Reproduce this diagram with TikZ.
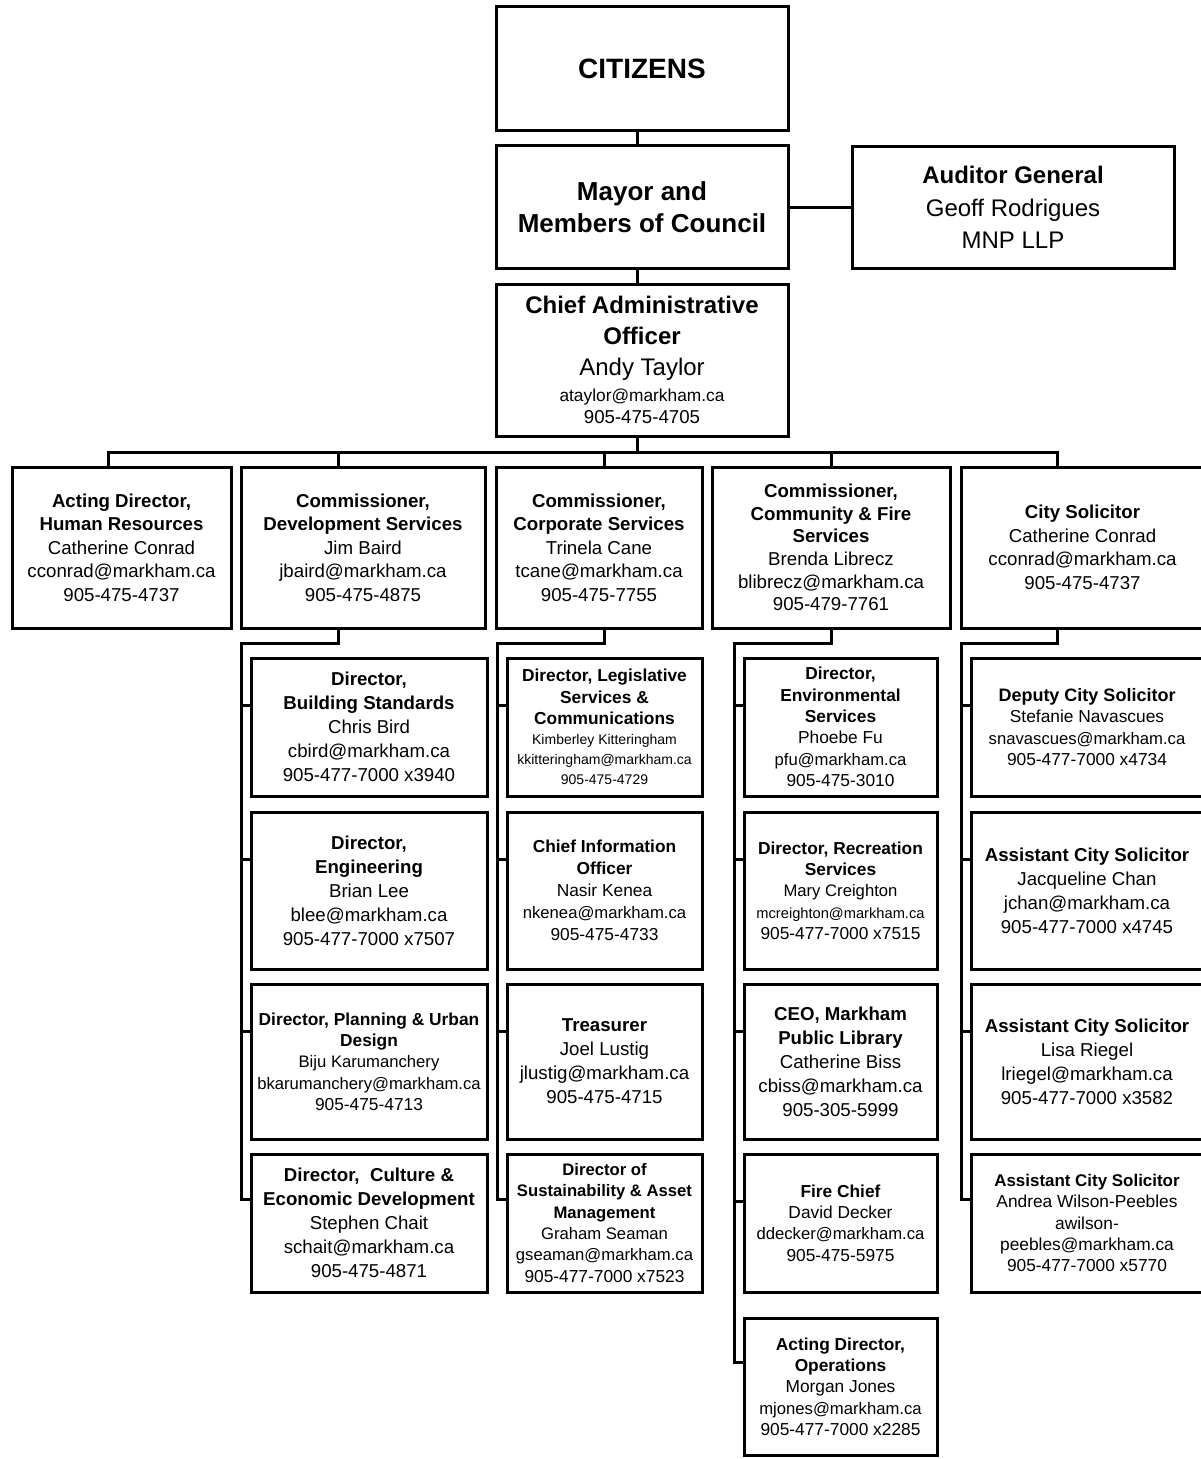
\documentclass[tikz,border=0pt]{standalone}
\usepackage{fontspec}
\setmainfont{Liberation Sans}
\usetikzlibrary{calc}
\newcommand{\fsz}[1]{\fontsize{#1}{#1}\selectfont}

\begin{document}
\begin{tikzpicture}[x=0.75pt,y=-0.75pt,
  box/.style={draw,line width=2.25pt,inner sep=0pt,outer sep=0pt,align=center,anchor=north west},
  sz/.style 2 args={minimum width=#1*0.75pt,minimum height=#2*0.75pt},
  link/.style={line width=2.25pt},
]
\useasboundingbox (0,0) rectangle (1201,1459);
\clip (0,0) rectangle (1201,1459);

% top of the chart
\node[box,sz={292}{124},font=\fontsize{21}{25}\selectfont\bfseries] (cit) at (496,7) {CITIZENS};
\node[box,sz={292}{122},font=\fontsize{19.5}{24}\selectfont\bfseries] (mayor) at (496,146) {Mayor and\\Members of Council};
\node[box,sz={322}{121},font=\fontsize{18}{24.5}\selectfont] (aud) at (852,147) {\textbf{Auditor General}\\Geoff Rodrigues\\MNP LLP};
\node[box,sz={292}{152},font=\fontsize{18}{23.5}\selectfont] (cao) at (496,284) {\textbf{Chief Administrative}\\\textbf{Officer}\\Andy Taylor\\[-4.5pt]{\fsz{13}ataylor@markham.ca}\\[-6.5pt]{\fsz{14}905-475-4705}};

% commissioners
\node[box,sz={219}{161},font=\fontsize{14}{17.6}\selectfont] (hr) at (12,467) {\textbf{Acting Director,}\\\textbf{Human Resources}\\Catherine Conrad\\cconrad@markham.ca\\905-475-4737};
\node[box,sz={244}{161},font=\fontsize{14}{17.6}\selectfont] (dev) at (241,467) {\textbf{Commissioner,}\\\textbf{Development Services}\\Jim Baird\\jbaird@markham.ca\\905-475-4875};
\node[box,sz={206}{161},font=\fontsize{14}{17.6}\selectfont] (corp) at (496,467) {\textbf{Commissioner,}\\\textbf{Corporate Services}\\Trinela Cane\\tcane@markham.ca\\905-475-7755};
\node[box,sz={238}{161},font=\fontsize{14}{17}\selectfont] (comm) at (712,467) {\textbf{Commissioner,}\\\textbf{Community \& Fire}\\\textbf{Services}\\Brenda Librecz\\blibrecz@markham.ca\\905-479-7761};
\node[box,sz={243}{161},font=\fontsize{14}{17.6}\selectfont] (sol) at (961,467) {\textbf{City Solicitor}\\Catherine Conrad\\cconrad@markham.ca\\905-475-4737};

% development services
\node[box,sz={236}{138},font=\fontsize{14}{18}\selectfont] (b1) at (251,658) {\textbf{Director,}\\\textbf{Building Standards}\\Chris Bird\\cbird@markham.ca\\905-477-7000 x3940};
\node[box,sz={236}{157},font=\fontsize{14}{18}\selectfont] (b2) at (251,812) {\textbf{Director,}\\\textbf{Engineering}\\Brian Lee\\blee@markham.ca\\905-477-7000 x7507};
\node[box,sz={236}{155},font=\fontsize{13}{16}\selectfont] (b3) at (251,984) {\textbf{Director, Planning \& Urban}\\\textbf{Design}\\{\fsz{12.5}Biju Karumanchery}\\{\fsz{12.5}bkarumanchery@markham.ca}\\905-475-4713};
\node[box,sz={236}{138},font=\fontsize{14}{18}\selectfont] (b4) at (251,1154) {\textbf{Director,\ \ Culture \&}\\\textbf{Economic Development}\\Stephen Chait\\schait@markham.ca\\905-475-4871};

% corporate services
\node[box,sz={195}{138},font=\fontsize{13}{16}\selectfont] (c1) at (507,658) {\textbf{Director, Legislative}\\\textbf{Services \&}\\\textbf{Communications}\\[-1pt]{\fsz{10.5}Kimberley Kitteringham}\\[-1pt]{\fsz{10.5}kkitteringham@markham.ca}\\[-1pt]{\fsz{10.5}905-475-4729}};
\node[box,sz={195}{157},font=\fontsize{13}{16.5}\selectfont] (c2) at (507,812) {\textbf{Chief Information}\\\textbf{Officer}\\Nasir Kenea\\{\fsz{12.5}nkenea@markham.ca}\\905-475-4733};
\node[box,sz={195}{155},font=\fontsize{14}{18}\selectfont] (c3) at (507,984) {\textbf{Treasurer}\\Joel Lustig\\jlustig@markham.ca\\905-475-4715};
\node[box,sz={195}{138},font=\fontsize{12.5}{16}\selectfont] (c4) at (507,1154) {\textbf{Director of}\\\textbf{Sustainability \& Asset}\\\textbf{Management}\\Graham Seaman\\gseaman@markham.ca\\{\fsz{13}905-477-7000 x7523}};

% community and fire services
\node[box,sz={193}{138},font=\fontsize{13}{16}\selectfont] (m1) at (744,658) {\textbf{Director,}\\\textbf{Environmental}\\\textbf{Services}\\Phoebe Fu\\{\fsz{12.5}pfu@markham.ca}\\905-475-3010};
\node[box,sz={193}{157},font=\fontsize{13}{16}\selectfont] (m2) at (744,812) {\textbf{Director, Recreation}\\\textbf{Services}\\{\fsz{12.5}Mary Creighton}\\{\fsz{11}mcreighton@markham.ca}\\905-477-7000 x7515};
\node[box,sz={193}{155},font=\fontsize{14}{18}\selectfont] (m3) at (744,984) {\textbf{CEO, Markham}\\\textbf{Public Library}\\Catherine Biss\\cbiss@markham.ca\\905-305-5999};
\node[box,sz={193}{138},font=\fontsize{13}{16}\selectfont] (m4) at (744,1154) {\textbf{Fire Chief}\\David Decker\\{\fsz{12.5}ddecker@markham.ca}\\905-475-5975};
\node[box,sz={193}{137},font=\fontsize{13}{16}\selectfont] (m5) at (744,1318) {\textbf{Acting Director,}\\\textbf{Operations}\\Morgan Jones\\{\fsz{12.5}mjones@markham.ca}\\905-477-7000 x2285};

% city solicitor
\node[box,sz={232}{138},font=\fontsize{13.5}{16}\selectfont] (s1) at (971,658) {\textbf{Deputy City Solicitor}\\{\fsz{13}Stefanie Navascues}\\{\fsz{12.5}snavascues@markham.ca}\\{\fsz{13}905-477-7000 x4734}};
\node[box,sz={232}{157},font=\fontsize{14}{18}\selectfont] (s2) at (971,812) {\textbf{Assistant City Solicitor}\\Jacqueline Chan\\jchan@markham.ca\\905-477-7000 x4745};
\node[box,sz={232}{155},font=\fontsize{14}{18}\selectfont] (s3) at (971,984) {\textbf{Assistant City Solicitor}\\Lisa Riegel\\lriegel@markham.ca\\905-477-7000 x3582};
\node[box,sz={232}{138},font=\fontsize{13}{16}\selectfont] (s4) at (971,1154) {{\fsz{12.7}\bfseries Assistant City Solicitor}\\Andrea Wilson-Peebles\\awilson-\\peebles@markham.ca\\905-477-7000 x5770};

% upper links
\draw[link] ($(cit.south)+(-5,0)$) -- ($(mayor.north)+(-5,0)$);
\draw[link] ($(mayor.south)+(-5,0)$) -- ($(cao.north)+(-5,0)$);
\draw[link] (mayor.east) -- (mayor.east -| aud.west);
\coordinate (hub) at ($(cao.south)+(-5,16)$);
\draw[link] ($(cao.south)+(-5,0)$) -- (hub);
\draw[link] ($(hr.north)+(-13.5,0)$) |- (hub) -| ($(sol.north)+(-25.5,0)$);
\draw[link] ($(dev.north)+(-25,0)$) -- ($(dev.north |- hub)+(-25,0)$);
\draw[link] ($(corp.north)+(5,0)$) -- ($(corp.north |- hub)+(5,0)$);
\draw[link] (comm.north) -- (comm.north |- hub);

% column links
\draw[link] ($(dev.south)+(-25,0)$) |- ($(b1.north west)+(-10,-15)$) |- ($(b4.north west)+(0,45)$);
\foreach \b in {b1,b2,b3}
  \draw[link] ($(\b.north west)+(-10,47)$) -- ($(\b.north west)+(0,47)$);
\draw[link] ($(corp.south)+(5,0)$) |- ($(c1.north west)+(-10,-15)$) |- ($(c4.north west)+(0,45)$);
\foreach \b in {c1,c2,c3}
  \draw[link] ($(\b.north west)+(-10,47)$) -- ($(\b.north west)+(0,47)$);
\draw[link] (comm.south) |- ($(m1.north west)+(-10,-15)$) |- ($(m5.north west)+(0,44)$);
\foreach \b in {m1,m2,m3,m4}
  \draw[link] ($(\b.north west)+(-10,47)$) -- ($(\b.north west)+(0,47)$);
\draw[link] ($(sol.south)+(-25.5,0)$) |- ($(s1.north west)+(-10,-15)$) |- ($(s4.north west)+(0,45)$);
\foreach \b in {s1,s2,s3}
  \draw[link] ($(\b.north west)+(-10,47)$) -- ($(\b.north west)+(0,47)$);
\end{tikzpicture}
\end{document}
